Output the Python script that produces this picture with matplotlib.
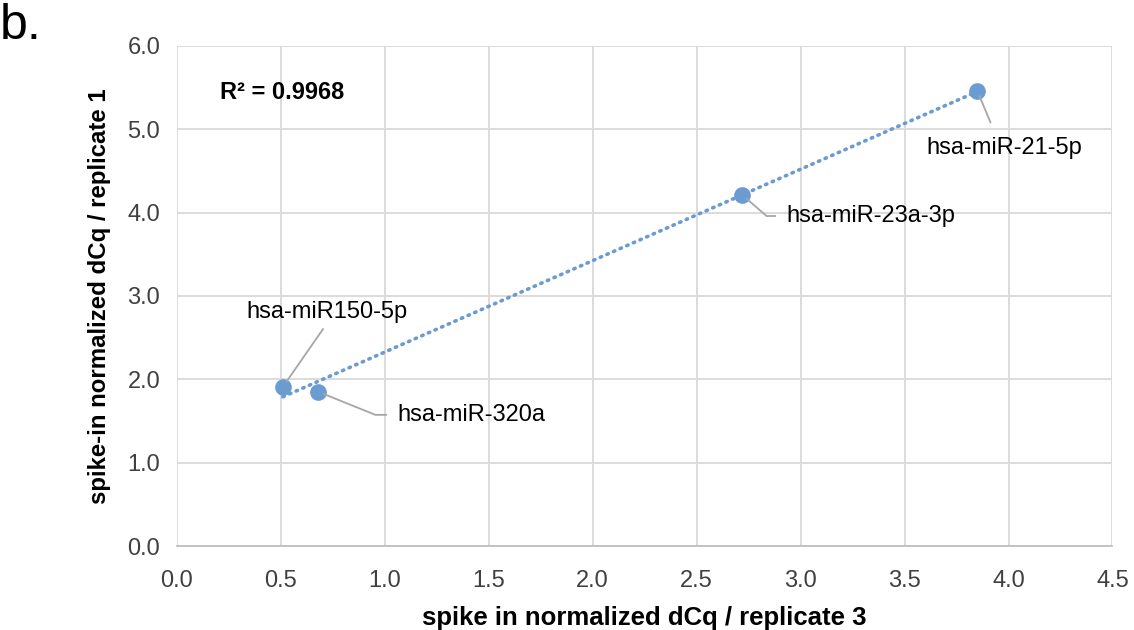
import numpy as np
import matplotlib.pyplot as plt

plt.rcParams['font.family'] = ['Liberation Sans', 'DejaVu Sans']

# replicate 3 (x) vs replicate 1 (y), spike-in normalized dCq
mirnas = ['hsa-miR150-5p', 'hsa-miR-320a', 'hsa-miR-23a-3p', 'hsa-miR-21-5p']
rep3 = [0.51, 0.68, 2.72, 3.85]
rep1 = [1.91, 1.85, 4.21, 5.46]
r2_text = 'R² = 0.9968'

x_ticks = np.arange(0, 4.51, 0.5)
y_ticks = np.arange(0, 6.01, 1.0)

blue = '#6A9BD1'
grid = '#D9D9D9'

fig = plt.figure(figsize=(11.34, 6.3), dpi=100)
ax = fig.add_axes([0.156, 0.1333, 0.825, 0.794])

# Linear trendline (dotted) across data range
slope, icpt = np.polyfit(rep3, rep1, 1)
xs = np.array([min(rep3), max(rep3)])
ax.plot(xs, slope * xs + icpt, color=blue, lw=2.6,
        linestyle=(0, (0.4, 1.6)), dash_capstyle='round', zorder=2)

ax.plot(rep3, rep1, 'o', color=blue, ms=11, zorder=3)

ax.set_xlim(0, 4.5)
ax.set_ylim(0, 6.0)
ax.set_xticks(x_ticks)
ax.set_yticks(y_ticks)
ax.set_xticklabels(['%.1f' % v for v in x_ticks])
ax.set_yticklabels(['%.1f' % v for v in y_ticks])
ax.tick_params(length=0, labelsize=17, colors='#404040')
ax.tick_params(axis='x', pad=17)
ax.tick_params(axis='y', pad=12)
ax.grid(True, color=grid, lw=1.3)
ax.set_axisbelow(True)
for s in ['top', 'right', 'left']:
    ax.spines[s].set_visible(False)
ax.spines['bottom'].set_color('#BFBFBF')
ax.spines['bottom'].set_linewidth(1.3)

ax.set_xlabel('spike in normalized dCq / replicate 3', fontsize=18.5,
              fontweight='bold', labelpad=10)
ax.set_ylabel('spike-in normalized dCq / replicate 1', fontsize=17.3,
              fontweight='bold', labelpad=12)

ax.text(0.046, 0.906, r2_text, transform=ax.transAxes, fontsize=17,
        fontweight='bold', va='center', ha='left')

# Data labels with leader lines
fs = 17
lead = dict(arrowstyle='-', color='#A6A6A6', lw=1.3)
ax.annotate(mirnas[0], (rep3[0], rep1[0]), xytext=(32, 54),
            textcoords='offset points', ha='center', va='center', fontsize=fs,
            arrowprops=dict(lead, relpos=(0.5, 0.0), shrinkA=3, shrinkB=5))
ax.annotate(mirnas[1], (rep3[1], rep1[1]), xytext=(57, -16.6),
            textcoords='offset points', ha='left', va='center', fontsize=fs,
            arrowprops=dict(lead, relpos=(0.0, 0.5), shrinkA=6, shrinkB=4,
                            connectionstyle='angle,angleA=0,angleB=-22,rad=0'))
ax.annotate(mirnas[2], (rep3[2], rep1[2]), xytext=(31.7, -15.1),
            textcoords='offset points', ha='left', va='center', fontsize=fs,
            arrowprops=dict(lead, relpos=(0.0, 0.5), shrinkA=6, shrinkB=4,
                            connectionstyle='angle,angleA=0,angleB=-41,rad=0'))
ax.annotate(mirnas[3], (rep3[3], rep1[3]), xytext=(19.4, -41),
            textcoords='offset points', ha='center', va='center', fontsize=fs,
            arrowprops=dict(lead, relpos=(0.45, 1.0), shrinkA=9, shrinkB=4))

fig.text(0.0, 0.995, 'b.', fontsize=36, ha='left', va='top')

fig.savefig('out.png', dpi=100)
